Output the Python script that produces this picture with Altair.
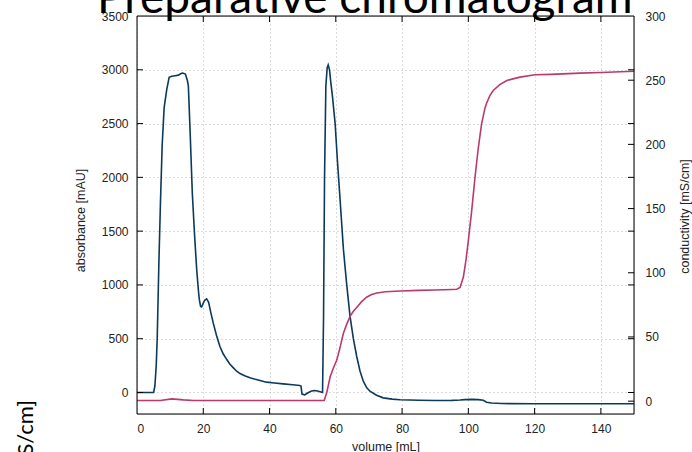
import altair as alt
import pandas as pd

# ---- data ----
vol_abs = [0, 5.0, 5.4, 5.8, 6.1, 6.6, 7.1, 7.6, 8.2, 9.0, 9.7, 10.5, 11.5, 12.5, 13.3, 13.8,
           14.6, 15.2, 15.5, 16.0, 16.7, 17.4, 18.0, 18.5, 18.8, 19.2, 19.5, 20.0, 20.5, 21.0,
           21.6, 22.3, 23.0, 24.0, 25.0, 26.0, 27.1, 28.0, 29.1, 30.0, 31.1, 32.5, 34.1, 36.0,
           39.1, 41.5, 44.1, 47.0, 49.1, 49.5, 49.8, 50.6, 51.5, 52.5, 53.5, 54.5, 55.5, 56.0,
           56.3, 56.6, 57.0, 57.4, 57.7, 58.1, 58.5, 59.0, 59.8, 60.5, 61.3, 62.3, 63.3, 64.3,
           65.3, 66.3, 67.3, 68.3, 69.3, 70.3, 72.3, 74.3, 77.0, 79.4, 85.0, 90.0, 95.0, 97.5,
           99.0, 101.0, 103.0, 104.5, 105.5, 107.0, 110.0, 120.0, 150.0]
absorbance = [0, 0, 60, 250, 500, 1200, 1790, 2300, 2650, 2820, 2930, 2940, 2945, 2950, 2965, 2970,
              2960, 2900, 2850, 2450, 1850, 1450, 1150, 960, 865, 800, 795, 830, 860, 870,
              840, 740, 647, 530, 430, 360, 306, 265, 229, 200, 176, 155, 136, 120,
              96, 88, 80, 72, 65, 60, -15, -22, -5, 12, 18, 14, 5, 0,
              700, 2000, 2850, 3020, 3045, 3000, 2880, 2750, 2500, 2150, 1790, 1330, 1000, 708,
              500, 337, 200, 105, 45, 12, -25, -50, -62, -68, -72, -74, -73, -70,
              -66, -64, -66, -72, -90, -98, -103, -105, -105]

vol_cond = [0, 7, 10.5, 14, 17, 56.5, 57.3, 58.3, 59.3, 60.3, 61.3, 62.3, 63.3, 64.3, 65.3, 66.3,
            67.8, 69.3, 70.8, 72.4, 75, 79.4, 85, 90, 95, 96.5, 97.5, 98.5, 99.3, 100, 101, 102,
            103, 104, 105, 105.5, 106.5, 107.5, 109.5, 111.6, 115.6, 120.1, 125, 133.7, 140, 150]
conductivity = [0.5, 0.5, 1.8, 1.0, 0.5, 0.5, 7, 19, 26, 32, 42, 53, 60, 66, 70, 73,
                77.5, 81, 83, 84.3, 85.2, 85.8, 86.3, 86.6, 87, 87.2, 88.5, 96.7, 110, 125, 148, 174,
                197, 216, 228, 232, 238, 242, 246.5, 249.8, 252.4, 254.2, 254.5, 255.5, 256, 257]

x_ticks = [0, 20, 40, 60, 80, 100, 120, 140]
abs_ticks = [0, 500, 1000, 1500, 2000, 2500, 3000, 3500]
cond_ticks = [0, 50, 100, 150, 200, 250, 300]
title_text = ["Preparative chromatogram"]
stray_text = ["conductivity [mS/cm]"]

# ---- styling ----
W, H = 497, 398
BLUE = "#0b3a5c"
RED = "#b83a6e"
GRID = "#b8b8b8"
TXT = "#222222"
FONT = "Liberation Sans"
TICK = 6

xscale = alt.Scale(domain=[0, 150], nice=False, zero=False)
yscale_abs = alt.Scale(domain=[-200, 3500], nice=False, zero=False)
yscale_cond = alt.Scale(domain=[-10, 300], nice=False, zero=False)

df_abs = pd.DataFrame({"vol": vol_abs, "abs": absorbance})
df_cond = pd.DataFrame({"vol": vol_cond, "cond": conductivity})

abs_line = alt.Chart(df_abs).mark_line(color=BLUE, strokeWidth=1.6).encode(
    x=alt.X("vol:Q", scale=xscale,
            axis=alt.Axis(values=x_ticks, format="d", grid=True, gridDash=[1, 3], gridColor=GRID,
                          ticks=False, domain=False, labelPadding=9, labelFont=FONT,
                          labelFontSize=12, labelColor=TXT, title="volume [mL]",
                          titleFont=FONT, titleFontSize=12.5, titleFontWeight="normal",
                          titleColor=TXT, titleX=W / 2, titleY=32, titleBaseline="middle")),
    y=alt.Y("abs:Q", scale=yscale_abs,
            axis=alt.Axis(values=abs_ticks, format="d", grid=True, gridDash=[1, 3], gridColor=GRID,
                          ticks=False, domain=False, labelPadding=9, labelFont=FONT,
                          labelFontSize=12, labelColor=TXT, title="absorbance [mAU]",
                          titleFont=FONT, titleFontSize=12.5, titleFontWeight="normal",
                          titleColor=TXT, titleX=-57, titleY=204, titleBaseline="middle")),
    order="vol:Q",
)

cond_line = alt.Chart(df_cond).mark_line(color=RED, strokeWidth=1.6).encode(
    x=alt.X("vol:Q", scale=xscale, axis=None),
    y=alt.Y("cond:Q", scale=yscale_cond,
            axis=alt.Axis(orient="right", values=cond_ticks, format="d", grid=False, ticks=False,
                          domain=False, labelPadding=11, labelFont=FONT, labelFontSize=12,
                          labelColor=TXT, title="conductivity [mS/cm]", titleFont=FONT,
                          titleFontSize=12.5, titleFontWeight="normal", titleColor=TXT,
                          titleAngle=270, titleX=50, titleY=200, titleBaseline="middle")),
    order="vol:Q",
)

df_xt = pd.DataFrame({"t": x_ticks[1:]})
df_at = pd.DataFrame({"t": abs_ticks[:-1]})
df_ct = pd.DataFrame({"t": cond_ticks[:-1]})

xt_bottom = alt.Chart(df_xt).mark_rule(color="black", strokeWidth=1).encode(
    x=alt.X("t:Q", scale=xscale, axis=None), y=alt.value(H - TICK), y2=alt.value(H))
xt_top = alt.Chart(df_xt).mark_rule(color="black", strokeWidth=1).encode(
    x=alt.X("t:Q", scale=xscale, axis=None), y=alt.value(0), y2=alt.value(TICK))
at_left = alt.Chart(df_at).mark_rule(color="black", strokeWidth=1).encode(
    y=alt.Y("t:Q", scale=yscale_abs, axis=None), x=alt.value(0), x2=alt.value(TICK))
at_right = alt.Chart(df_at).mark_rule(color="black", strokeWidth=1).encode(
    y=alt.Y("t:Q", scale=yscale_abs, axis=None), x=alt.value(W - TICK), x2=alt.value(W))
ct_right = alt.Chart(df_ct).mark_rule(color="black", strokeWidth=1).encode(
    y=alt.Y("t:Q", scale=yscale_cond, axis=None), x=alt.value(W - TICK), x2=alt.value(W))

frame = alt.Chart(pd.DataFrame({"a": [0]})).mark_rect(
    fillOpacity=0, stroke="black", strokeWidth=1).encode(
    x=alt.value(0), x2=alt.value(W), y=alt.value(0), y2=alt.value(H))

title = alt.Chart(pd.DataFrame({"t": title_text})).mark_text(
    font="Lato", fontSize=46, align="left", baseline="alphabetic", color="black").encode(
    text="t:N", x=alt.value(-40), y=alt.value(-3))

stray = alt.Chart(pd.DataFrame({"t": stray_text})).mark_text(
    font="Lato", fontSize=22, align="right", baseline="alphabetic", angle=270,
    color="black").encode(
    text="t:N", x=alt.value(-104), y=alt.value(384))

chart = alt.layer(
    abs_line, cond_line, xt_bottom, xt_top, at_left, at_right, ct_right, frame, title, stray
).resolve_scale(y="independent").resolve_axis(x="independent").properties(
    width=W, height=H,
    autosize=alt.AutoSizeParams(type="none"),
    padding={"left": 137, "top": 16, "right": 58, "bottom": 38},
).configure_view(stroke=None).configure(background="white")

chart.save("out.html", embed_options={"renderer": "svg", "actions": False})
